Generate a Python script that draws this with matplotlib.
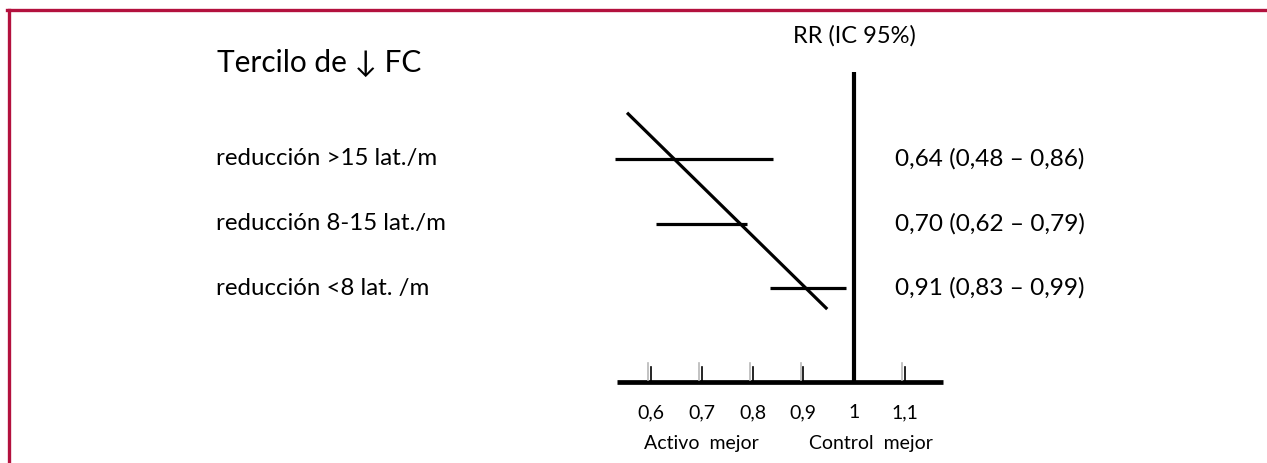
import matplotlib
matplotlib.use("Agg")
import matplotlib.pyplot as plt
from matplotlib.lines import Line2D
import matplotlib.transforms as mtransforms

plt.rcParams["font.family"] = ["Lato", "DejaVu Sans"]

# rows, top to bottom
row_labels = ["reducción >15 lat./m", "reducción 8-15 lat./m", "reducción <8 lat. /m"]
rr = [0.64, 0.70, 0.91]
ci_lo = [0.48, 0.62, 0.83]
ci_hi = [0.86, 0.79, 0.99]
# horizontal segments as drawn in the figure
bar_lo = [0.53, 0.61, 0.835]
bar_hi = [0.84, 0.79, 0.985]
# hand-drawn trend line (x in RR units, y in row units)
trend_x = [0.555, 0.945]
trend_y = [-0.70, 2.31]

ticks = [0.6, 0.7, 0.8, 0.9, 1.0, 1.1]
tick_labels = ["0,6", "0,7", "0,8", "0,9", "1", "1,1"]

W, H = 1267, 463
BORDER = "#B3113E"


def fy(py):
    return 1 - py / H


def fx(px):
    return px / W


fig = plt.figure(figsize=(W / 100, H / 100), dpi=100)
ax = fig.add_axes([0, 0, 1, 1])
ax.set_axis_off()
# 0.6 -> 651 px, 1.0 -> 854 px ; row i -> 159 + 64.5 i px
sx = (854 - 651) / 0.4
ax.set_xlim(0.6 - 651 / sx, 0.6 + (W - 651) / sx)
ax.set_ylim((H - 159) / 64.5, -159 / 64.5)

base_y = 3.46
ax.plot([0.533, 1.175], [base_y, base_y], color="black", lw=3.4, solid_capstyle="butt")
ax.plot([1.0, 1.0], [-1.35, base_y], color="black", lw=3.0, solid_capstyle="butt")

for i in range(len(rr)):
    ax.plot([bar_lo[i], bar_hi[i]], [i, i], color="black", lw=2.3, solid_capstyle="butt")

ax.plot(trend_x, trend_y, color="black", lw=2.3)

# double tick marks (light grey + black) on the axis
for t in ticks:
    if t == 1.0:
        continue
    ax.plot([t - 0.005, t - 0.005], [base_y - 0.30, base_y - 0.03], color="#b8b8b8", lw=1.2)
    ax.plot([t, t], [base_y - 0.24, base_y], color="black", lw=1.2)

for t, lab in zip(ticks, tick_labels):
    ax.text(t, (413 - 159) / 64.5, lab, ha="center", va="center", fontsize=14)

blend = mtransforms.blended_transform_factory(fig.transFigure, ax.transData)
for i, lab in enumerate(row_labels):
    ax.text(fx(216), i, lab, transform=blend, ha="left", va="center", fontsize=17.3)
    ax.text(fx(895), i, f"{rr[i]:.2f} ({ci_lo[i]:.2f} – {ci_hi[i]:.2f})".replace(".", ","),
            transform=blend, ha="left", va="center", fontsize=17.6)

fig.text(fx(217), fy(63), "Tercilo de ↓ FC", ha="left", va="center", fontsize=21.5)
ax.text(1.0, (36 - 159) / 64.5, "RR (IC 95%)", ha="center", va="center", fontsize=17)
fig.text(fx(701), fy(443), "Activo  mejor", ha="center", va="center", fontsize=14)
fig.text(fx(871), fy(443), "Control  mejor", ha="center", va="center", fontsize=14)

# crimson frame (left and top edges)
fig.add_artist(Line2D([fx(8.5), fx(8.5)], [0, fy(9.5)], transform=fig.transFigure, color=BORDER, lw=2.4))
fig.add_artist(Line2D([fx(7.3), 1], [fy(10), fy(10)], transform=fig.transFigure, color=BORDER, lw=2.4))

fig.savefig("out.png", dpi=100)
